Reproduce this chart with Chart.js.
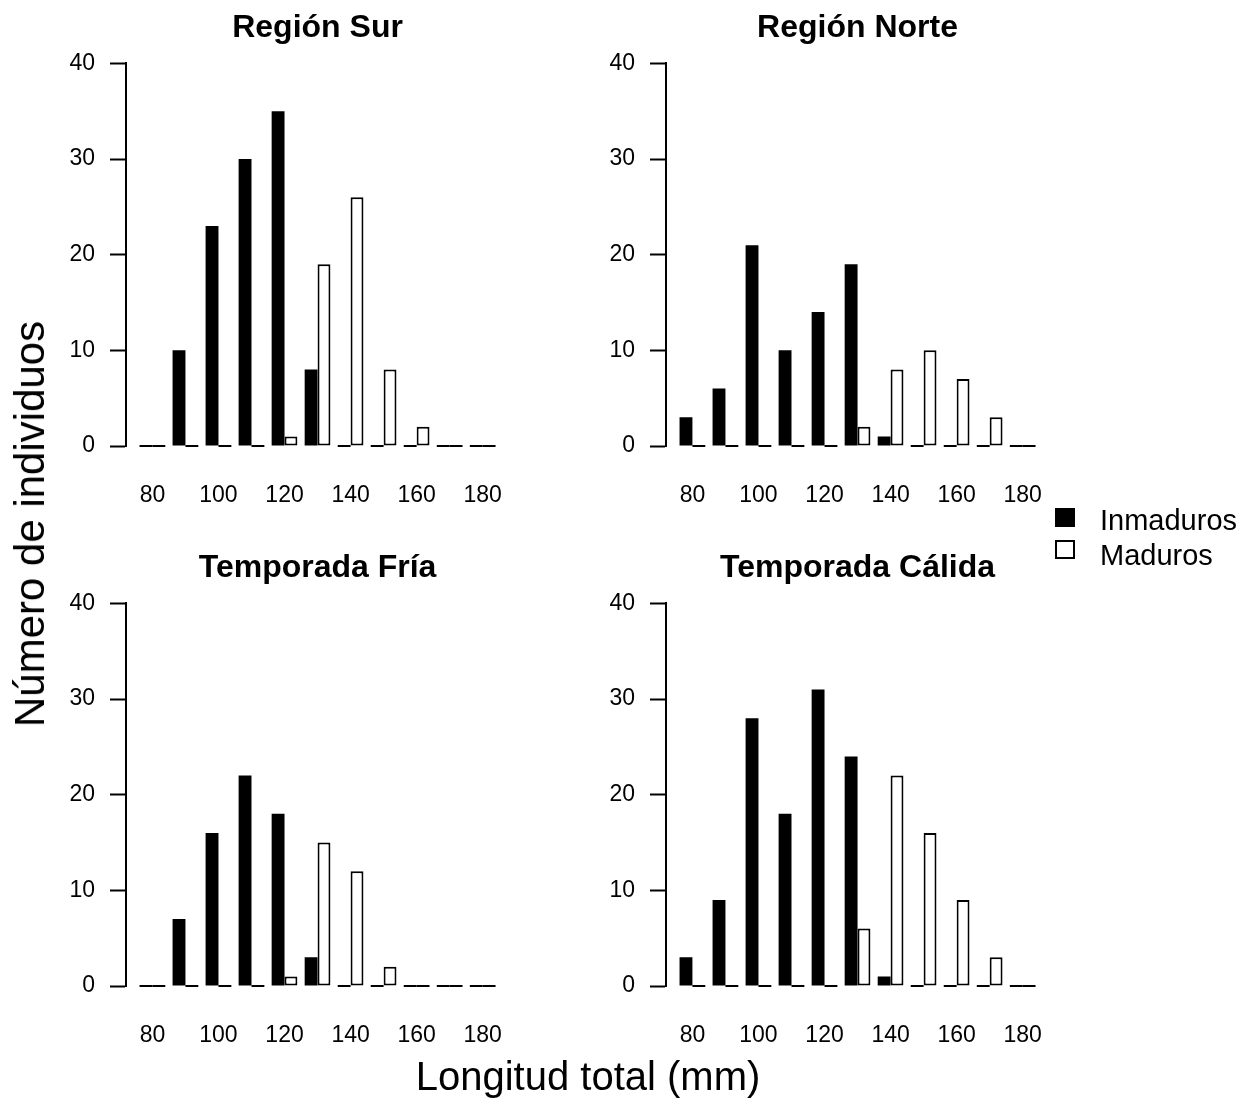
<!DOCTYPE html>
<html>
<head>
<meta charset="utf-8">
<script src="https://cdn.jsdelivr.net/npm/chart.js@4/dist/chart.umd.min.js"></script>
<style>
  body { margin: 0; background: #fff; }
  #page { position: relative; width: 1251px; height: 1099px; font-family: 'Liberation Sans', Arial, sans-serif; color: #000; }
  canvas { position: absolute; }
  .label { position: absolute; white-space: nowrap; }
  .ylab { left: 30px; top: 524px; font-size: 42px; transform: translate(-50%, -50%) rotate(-90deg); }
  .xlab { left: 588px; top: 1076px; font-size: 40px; transform: translate(-50%, -50%); }
  .key { position: absolute; left: 1055px; width: 20px; height: 19px; box-sizing: border-box; }
  .key-text { position: absolute; left: 1100px; font-size: 29px; transform: translateY(-50%); }
</style>
</head>
<body>
<div id="page">
  <canvas id="p0" width="540" height="530" style="left:0;top:0"></canvas>
  <canvas id="p1" width="540" height="530" style="left:540px;top:0"></canvas>
  <canvas id="p2" width="540" height="530" style="left:0;top:540px"></canvas>
  <canvas id="p3" width="540" height="530" style="left:540px;top:540px"></canvas>
  <div class="label ylab">Número de individuos</div>
  <div class="label xlab">Longitud total (mm)</div>
  <div class="key" style="top:508px;background:#000"></div>
  <div class="key-text" style="top:520px">Inmaduros</div>
  <div class="key" style="top:540px;border:2px solid #000;background:#fff"></div>
  <div class="key-text" style="top:555px">Maduros</div>
</div>
<script>
const lengthClasses = [80, 90, 100, 110, 120, 130, 140, 150, 160, 170, 180]
const xTickLabels = [80, 100, 120, 140, 160, 180]
const yTickLabels = [0, 10, 20, 30, 40]
const panelTitles = ['Región Sur', 'Región Norte', 'Temporada Fría', 'Temporada Cálida']
const seriesNames = ['Inmaduros', 'Maduros']

const surInmaduros = [0, 10, 23, 30, 35, 8, 0, 0, 0, 0, 0]
const surMaduros = [0, 0, 0, 0, 1, 19, 26, 8, 2, 0, 0]
const norteInmaduros = [3, 6, 21, 10, 14, 19, 1, 0, 0, 0, 0]
const norteMaduros = [0, 0, 0, 0, 0, 2, 8, 10, 7, 3, 0]
const friaInmaduros = [0, 7, 16, 22, 18, 3, 0, 0, 0, 0, 0]
const friaMaduros = [0, 0, 0, 0, 1, 15, 12, 2, 0, 0, 0]
const calidaInmaduros = [3, 9, 28, 18, 31, 24, 1, 0, 0, 0, 0]
const calidaMaduros = [0, 0, 0, 0, 0, 6, 22, 16, 9, 3, 0]

const panelSeries = [
  [surInmaduros, surMaduros],
  [norteInmaduros, norteMaduros],
  [friaInmaduros, friaMaduros],
  [calidaInmaduros, calidaMaduros],
]

const FONT = "'Liberation Sans', Arial, sans-serif"

// bars with a count of 0 are drawn as a flat line, as R's barplot does
const zeroBars = {
  id: 'zeroBars',
  afterDatasetsDraw(chart) {
    const ctx = chart.ctx
    ctx.save()
    ctx.strokeStyle = '#000'
    ctx.lineWidth = 2
    chart.data.datasets.forEach((ds, i) => {
      const meta = chart.getDatasetMeta(i)
      meta.data.forEach((bar, j) => {
        if (ds.data[j].y !== 0) return
        const { x, base, width } = bar.getProps(['x', 'base', 'width'], true)
        ctx.beginPath()
        ctx.moveTo(x - width / 2, base)
        ctx.lineTo(x + width / 2, base)
        ctx.stroke()
      })
    })
    ctx.restore()
  },
}

const toPoints = (values) => values.map((v, i) => ({ x: lengthClasses[i], y: v }))

panelTitles.forEach((title, idx) => {
  const [inmaduros, maduros] = panelSeries[idx]
  const ctx = document.getElementById('p' + idx).getContext('2d')
  new Chart(ctx, {
    type: 'bar',
    data: {
      datasets: [
        {
          label: seriesNames[0],
          data: toPoints(inmaduros),
          backgroundColor: '#000',
          borderWidth: 0,
        },
        {
          label: seriesNames[1],
          data: toPoints(maduros),
          backgroundColor: '#fff',
          borderColor: '#000',
          borderWidth: 2,
          borderSkipped: false,
        },
      ],
    },
    options: {
      responsive: false,
      animation: false,
      devicePixelRatio: 1,
      categoryPercentage: 0.78,
      barPercentage: 1,
      layout: { padding: { left: 0, right: 28, top: 0, bottom: 0 } },
      scales: {
        x: {
          type: 'linear',
          offset: false,
          min: 72,
          max: 188,
          grid: { display: false, drawTicks: false },
          border: { display: false },
          afterBuildTicks: (scale) => {
            scale.ticks = xTickLabels.map((v) => ({ value: v }))
          },
          afterFit: (scale) => {
            scale.height = 84
          },
          ticks: {
            color: '#000',
            font: { family: FONT, size: 23 },
            padding: 36,
            maxRotation: 0,
            autoSkip: false,
          },
        },
        y: {
          min: 0,
          max: 40,
          afterBuildTicks: (scale) => {
            scale.ticks = yTickLabels.map((v) => ({ value: v }))
          },
          afterFit: (scale) => {
            scale.width = 126
          },
          grid: {
            drawOnChartArea: false,
            drawTicks: true,
            tickLength: 16,
            tickWidth: 2,
            color: '#000',
          },
          border: { display: true, color: '#000', width: 2 },
          ticks: {
            color: '#000',
            font: { family: FONT, size: 23 },
            padding: 15,
          },
        },
      },
      plugins: {
        legend: { display: false },
        tooltip: { enabled: false },
        title: {
          display: true,
          text: title,
          fullSize: false,
          color: '#000',
          font: { family: FONT, size: 32, weight: 'bold' },
          padding: { top: 9, bottom: 16 },
        },
      },
    },
    plugins: [zeroBars],
  })
})
</script>
</body>
</html>
